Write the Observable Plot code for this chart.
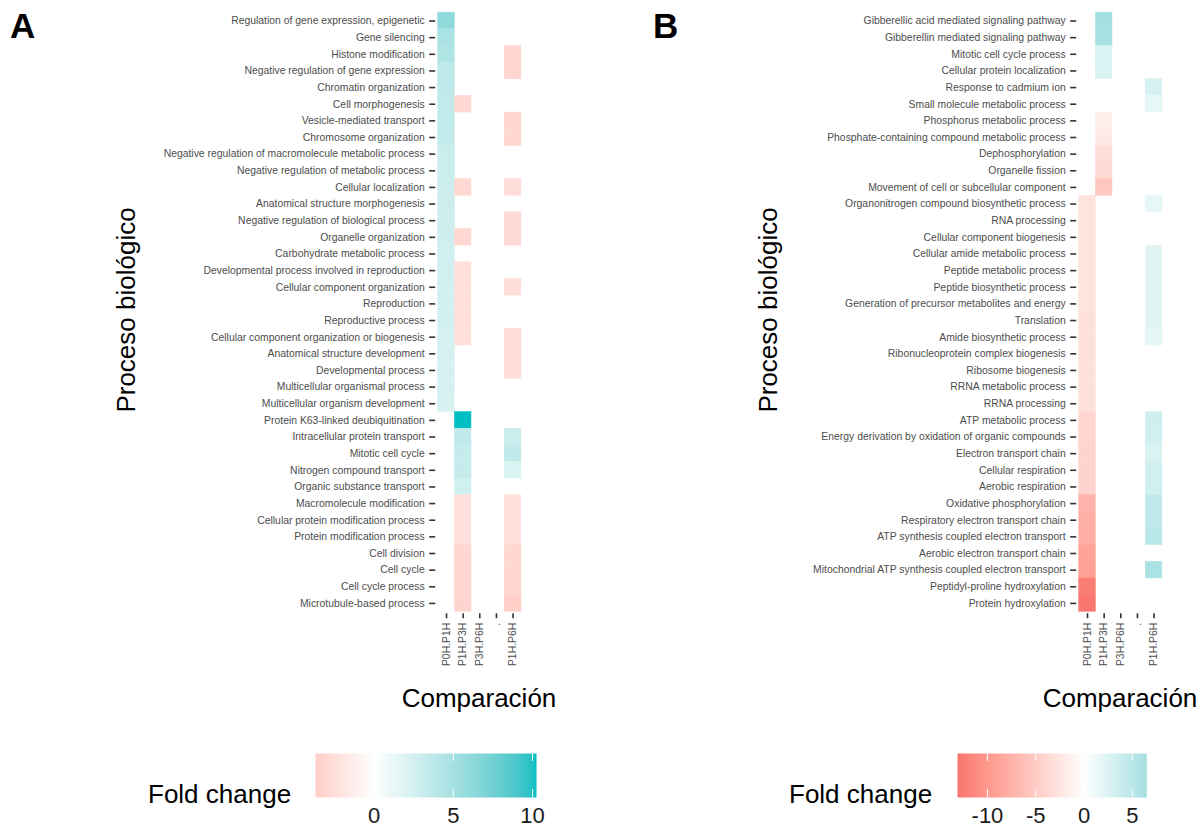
<!DOCTYPE html>
<html><head><meta charset="utf-8">
<script src="https://cdn.jsdelivr.net/npm/d3@7"></script>
<script src="https://cdn.jsdelivr.net/npm/@observablehq/plot@0.6"></script>
<style>
body{margin:0;background:#fff;font-family:"Liberation Sans",Arial,sans-serif;}
#wrap{position:relative;width:1201px;height:832px;overflow:hidden;background:#fff}
.abs{position:absolute;white-space:nowrap;line-height:1;color:#000}
.ttl{font-size:26px}
.panel{font-size:35px;font-weight:bold}
.rot{transform:translate(-50%,-50%) rotate(-90deg)}
.ctr{transform:translateX(-50%)}
#wrap svg{position:absolute;overflow:visible}
</style></head>
<body><div id="wrap"></div>
<script>
// ---------- DATA ----------
const comparisons = ["P0H.P1H","P1H.P3H","P3H.P6H",".","P1H.P6H"];

const processesA = [
 "Regulation of gene expression, epigenetic","Gene silencing","Histone modification",
 "Negative regulation of gene expression","Chromatin organization","Cell morphogenesis",
 "Vesicle-mediated transport","Chromosome organization",
 "Negative regulation of macromolecule metabolic process","Negative regulation of metabolic process",
 "Cellular localization","Anatomical structure morphogenesis","Negative regulation of biological process",
 "Organelle organization","Carbohydrate metabolic process","Developmental process involved in reproduction",
 "Cellular component organization","Reproduction","Reproductive process",
 "Cellular component organization or biogenesis","Anatomical structure development","Developmental process",
 "Multicellular organismal process","Multicellular organism development",
 "Protein K63-linked deubiquitination","Intracellular protein transport","Mitotic cell cycle",
 "Nitrogen compound transport","Organic substance transport","Macromolecule modification",
 "Cellular protein modification process","Protein modification process","Cell division",
 "Cell cycle","Cell cycle process","Microtubule-based process"
];
const foldA_P0H_P1H = [6.1,4.7,4.5,3.7,3.6,3.5,3.5,3.4,3.0,3.0,2.9,2.9,2.8,2.8,2.6,2.6,2.5,2.5,2.5,2.4,2.4,2.4,2.4,2.3,
 null,null,null,null,null,null,null,null,null,null,null,null];
const foldA_P1H_P3H = [null,null,null,null,null,-3.0,null,null,null,null,-3.0,null,null,-3.0,null,-2.4,-2.4,-2.4,-2.4,-2.4,
 null,null,null,null,10.25,3.6,3.3,3.3,2.7,-2.2,-2.2,-2.2,-3.1,-3.1,-3.1,-3.3];
const foldA_P3H_P6H = [];
const foldA_dot = [];
const foldA_P1H_P6H = [null,null,-3.2,-3.2,null,null,-3.1,-3.1,null,null,-2.6,null,-2.9,-2.9,null,null,-2.6,null,null,-2.7,
 -2.7,-2.7,null,null,null,3.0,3.6,2.0,null,-2.3,-2.3,-2.3,-3.1,-3.1,-3.1,-3.7];

const processesB = [
 "Gibberellic acid mediated signaling pathway","Gibberellin mediated signaling pathway","Mitotic cell cycle process",
 "Cellular protein localization","Response to cadmium ion","Small molecule metabolic process",
 "Phosphorus metabolic process","Phosphate-containing compound metabolic process","Dephosphorylation",
 "Organelle fission","Movement of cell or subcellular component","Organonitrogen compound biosynthetic process",
 "RNA processing","Cellular component biogenesis","Cellular amide metabolic process","Peptide metabolic process",
 "Peptide biosynthetic process","Generation of precursor metabolites and energy","Translation",
 "Amide biosynthetic process","Ribonucleoprotein complex biogenesis","Ribosome biogenesis","RRNA metabolic process",
 "RRNA processing","ATP metabolic process","Energy derivation by oxidation of organic compounds",
 "Electron transport chain","Cellular respiration","Aerobic respiration","Oxidative phosphorylation",
 "Respiratory electron transport chain","ATP synthesis coupled electron transport","Aerobic electron transport chain",
 "Mitochondrial ATP synthesis coupled electron transport","Peptidyl-proline hydroxylation","Protein hydroxylation"
];
const foldB_P0H_P1H = [null,null,null,null,null,null,null,null,null,null,null,-2.8,-2.8,-2.8,-2.8,-2.8,-2.8,-2.8,
 -3.0,-3.0,-3.0,-3.0,-3.0,-3.0,-4.0,-4.0,-4.2,-4.2,-4.3,-7.5,-7.6,-7.8,-9.0,-9.2,-12.5,-13.1];
const foldB_P1H_P3H = [6.5,6.3,2.8,2.8,null,null,-1.8,-2.2,-3.3,-3.6,-5.5];
const foldB_P3H_P6H = [];
const foldB_dot = [];
const foldB_P1H_P6H = [null,null,null,null,3.0,1.8,null,null,null,null,null,1.8,null,null,2.2,2.2,2.2,2.2,2.2,2.0,
 null,null,null,null,3.5,3.3,2.8,3.3,3.4,4.6,4.6,5.0,null,6.0,null,null];

const legendTicksA = [0,5,10];
const legendTicksB = [-10,-5,0,5];

// ---------- helpers ----------
function table(processes, cols){
  const rows = [];
  comparisons.forEach((c, j) => processes.forEach((p, i) => {
    const v = cols[j][i];
    if (v !== undefined && v !== null) rows.push({comp: c, process: p, value: v});
  }));
  return rows;
}
function colorScale(min, max){
  const M = Math.max(-min, max);
  const lo = d3.interpolateLab("#ffffff", "#F8766D");
  const hi = d3.interpolateLab("#ffffff", "#00BFC4");
  const f = v => v < 0 ? lo(-v / M) : hi(v / M);
  return {type: "linear", domain: [min, max], interpolate: t => f(min + t * (max - min))};
}
const FONT = "'Liberation Sans', Arial, sans-serif";
const wrap = document.getElementById("wrap");

function heatmap(processes, cols, left){
  const data = table(processes, cols);
  const [min, max] = d3.extent(data, d => d.value);
  const W = 560, H = 690, ml = 437.7, bw = 16.64, mt = 12.2, rh = 16.64;
  const svg = Plot.plot({
    width: W, height: H,
    marginLeft: ml, marginRight: W - ml - bw * comparisons.length,
    marginTop: mt, marginBottom: H - mt - rh * processes.length,
    x: {domain: comparisons, padding: 0, round: false, label: null},
    y: {domain: processes, padding: 0, round: false, label: null},
    color: colorScale(min, max),
    style: {fontFamily: FONT, fontSize: "10.4px", background: "transparent", color: "#4d4d4d"},
    marks: [
      Plot.cell(data, {x: "comp", y: "process", fill: "value", stroke: "value", strokeWidth: 0.5, inset: 0}),
      Plot.axisY({tickSize: 6, tickPadding: 5, dx: -2.5, stroke: "#333", strokeWidth: 1.6, fill: "#4d4d4d", label: null}),
      Plot.axisX({tickSize: 5, tickPadding: 4, dy: 2, tickRotate: -90, stroke: "#333", strokeWidth: 1.6, fill: "#4d4d4d", label: null})
    ]
  });
  svg.style.left = left + "px"; svg.style.top = "0px";
  wrap.appendChild(svg);
  return {min, max};
}

function legend(min, max, ticks, barLeft, barRight){
  const left = barLeft - 20, W = 280, ml = 20;
  const svg = Plot.plot({
    width: W, height: 95,
    marginLeft: ml, marginRight: W - ml - (barRight - barLeft), marginTop: 13, marginBottom: 38,
    x: {domain: [min, max], label: null},
    y: {domain: [0, 1], axis: null},
    color: colorScale(min, max),
    style: {fontFamily: FONT, fontSize: "22px", background: "transparent", color: "#1a1a1a"},
    marks: [
      Plot.raster({x1: min, x2: max, y1: 0, y2: 1, fill: (x, y) => x}),
      Plot.ruleX(ticks, {y1: 0, y2: 0.18, stroke: "white", strokeWidth: 1}),
      Plot.ruleX(ticks, {y1: 0.82, y2: 1, stroke: "white", strokeWidth: 1}),
      Plot.axisX(ticks, {tickSize: 0, tickPadding: 10, label: null, fill: "#1a1a1a", tickFormat: d => String(d)})
    ]
  });
  svg.style.left = left + "px"; svg.style.top = "740px";
  wrap.appendChild(svg);
}

function text(t, cls, x, y){
  const d = document.createElement("div");
  d.className = "abs " + cls; d.textContent = t;
  d.style.left = x + "px"; d.style.top = y + "px";
  wrap.appendChild(d);
}

const cA = [foldA_P0H_P1H, foldA_P1H_P3H, foldA_P3H_P6H, foldA_dot, foldA_P1H_P6H];
const cB = [foldB_P0H_P1H, foldB_P1H_P3H, foldB_P3H_P6H, foldB_dot, foldB_P1H_P6H];
const eA = heatmap(processesA, cA, 0);
const eB = heatmap(processesB, cB, 640.8);
legend(eA.min, eA.max, legendTicksA, 315, 536);
legend(eB.min, eB.max, legendTicksB, 956.7, 1146);

text("A", "panel", 10, 8);
text("B", "panel", 653, 8);
text("Proceso biológico", "ttl rot", 126, 310);
text("Proceso biológico", "ttl rot", 768, 310);
text("Comparación", "ttl ctr", 479, 685);
text("Comparación", "ttl ctr", 1120, 685);
text("Fold change", "ttl", 148, 781);
text("Fold change", "ttl", 789, 781);
</script></body></html>
